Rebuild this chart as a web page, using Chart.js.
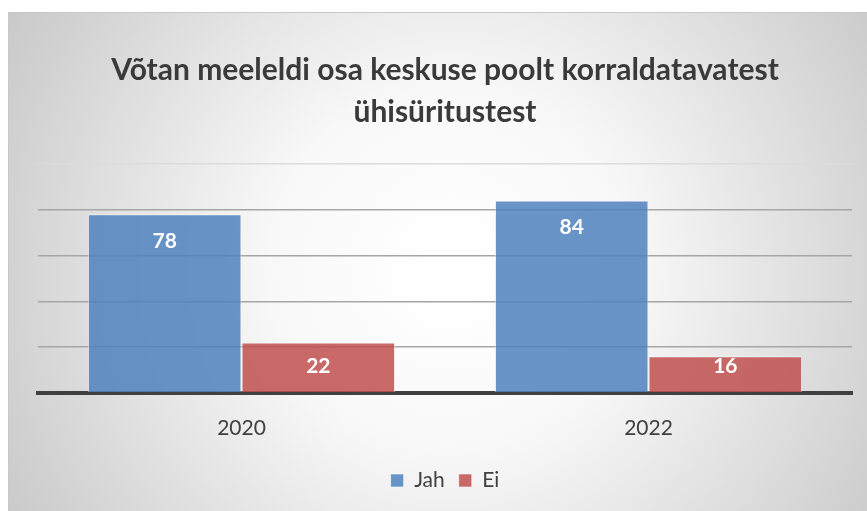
<!DOCTYPE html>
<html>
<head>
<meta charset="utf-8">
<script src="https://cdn.jsdelivr.net/npm/chart.js@4"></script>
<style>
  html, body { margin: 0; padding: 0; background: #fff; }
  #wrap { position: absolute; left: 0; top: 0; width: 867px; height: 511px; }
</style>
</head>
<body>
<div id="wrap"><canvas id="tulp"></canvas></div>
<script>
var aastad = ['2020', '2022'];
var jah = [78, 84];
var ei = [22, 16];
var pealkiri = ['Võtan meeleldi osa keskuse poolt korraldatavatest', 'ühisüritustest'];

// taust: valge serv ja hall radiaalne gradient paneelil
var taust = {
    id: 'taust',
    beforeDraw: function (chart) {
        var c = chart.ctx;
        c.save();
        c.fillStyle = '#ffffff';
        c.fillRect(0, 0, chart.width, chart.height);
        var g = c.createRadialGradient(450, 270, 20, 450, 270, 560);
        g.addColorStop(0, '#ffffff');
        g.addColorStop(0.3, '#f8f8f8');
        g.addColorStop(1, '#c2c2c2');
        c.fillStyle = g;
        c.fillRect(8, 12, chart.width - 8, chart.height - 12);
        c.strokeStyle = '#c8c8c8';
        c.lineWidth = 1;
        c.beginPath();
        c.moveTo(8.5, chart.height);
        c.lineTo(8.5, 12.5);
        c.lineTo(chart.width, 12.5);
        c.stroke();
        c.restore();
    }
};

// väärtused tulpade sisse
var sildid = {
    id: 'sildid',
    afterDatasetsDraw: function (chart) {
        var c = chart.ctx;
        c.save();
        c.font = 'bold 21px Lato';
        c.fillStyle = '#ffffff';
        c.textAlign = 'center';
        c.textBaseline = 'middle';
        chart.data.datasets.forEach(function (ds, i) {
            chart.getDatasetMeta(i).data.forEach(function (bar, j) {
                var y = Math.min(bar.y + 27, bar.base - 26);
                c.fillText(ds.data[j], bar.x, y);
            });
        });
        c.restore();
    }
};

var ctx = document.getElementById('tulp');
var tulp = new Chart(ctx, {
    type: 'bar',
    data: {
        labels: aastad,
        datasets: [{
            label: 'Jah',
            data: jah,
            backgroundColor: 'rgba(79,129,189,0.85)',
            borderColor: 'rgba(255,255,255,0.55)',
            borderWidth: 1
        }, {
            label: 'Ei',
            data: ei,
            backgroundColor: 'rgba(192,80,77,0.85)',
            borderColor: 'rgba(255,255,255,0.55)',
            borderWidth: 1
        }]
    },
    options: {
        responsive: true,
        maintainAspectRatio: false,
        animation: false,
        categoryPercentage: 0.755,
        barPercentage: 1,
        layout: { padding: { left: 38, right: 15, top: 49, bottom: 10 } },
        plugins: {
            title: {
                display: true,
                text: pealkiri,
                color: '#3a3a3a',
                font: { family: 'Lato', size: 30, weight: 'bold', lineHeight: 1.4 },
                padding: { top: 0, bottom: 31 }
            },
            legend: {
                position: 'bottom',
                labels: {
                    boxWidth: 13,
                    boxHeight: 13,
                    color: '#404040',
                    font: { family: 'Lato', size: 21 },
                    padding: 14
                }
            },
            tooltip: { enabled: false }
        },
        scales: {
            x: {
                grid: { display: false },
                border: { color: '#404040', width: 4 },
                ticks: { color: '#404040', font: { family: 'Lato', size: 21 }, padding: 15 }
            },
            y: {
                min: 0,
                max: 100,
                ticks: { display: false, stepSize: 20 },
                border: { display: false },
                grid: {
                    drawTicks: false,
                    color: function (c) { return c.tick.value === 100 ? '#dcdcdc' : '#a6a6a6'; },
                    lineWidth: 1.5
                },
                afterFit: function (s) { s.width = 0; }
            }
        }
    },
    plugins: [taust, sildid]
});
</script>
</body>
</html>
